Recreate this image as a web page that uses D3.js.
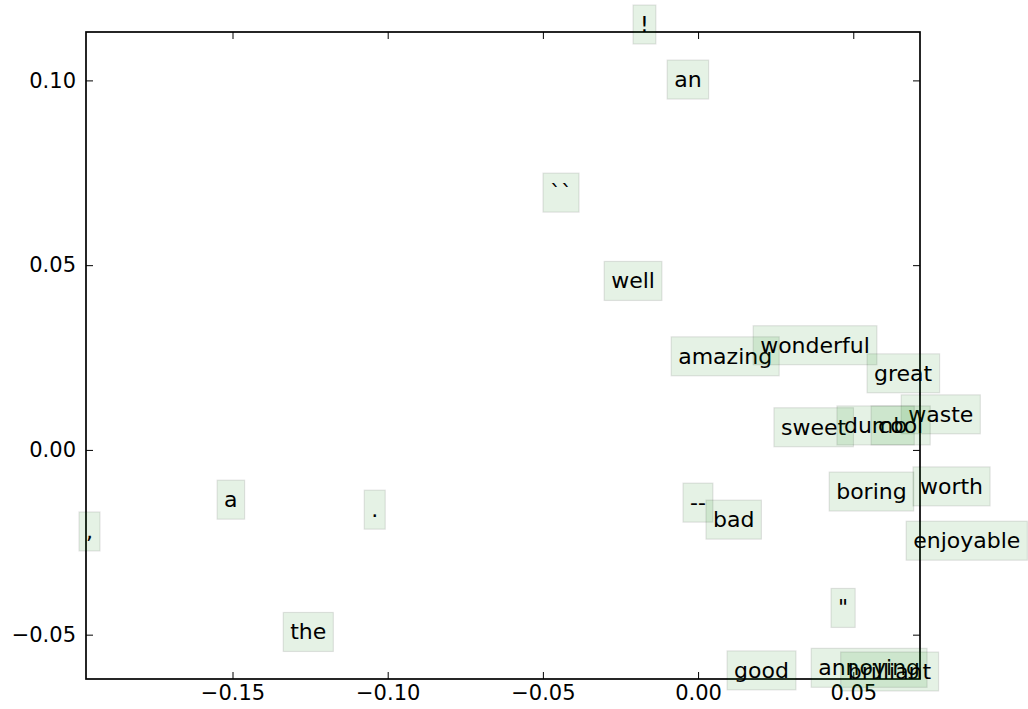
<!DOCTYPE html>
<html>
<head>
<meta charset="utf-8">
<style>
    body { margin: 0; background: #fff; }
    svg text { font-family: "DejaVu Sans", sans-serif; }
    .frame { fill: none; stroke: #000; stroke-width: 1.7; }
    .tick line { stroke: #000; stroke-width: 1; }
    .box { fill: green; fill-opacity: 0.1; stroke: #000; stroke-opacity: 0.1; stroke-width: 1.2; }
</style>
</head>
<body>
<div id="target"></div>
<script src="https://cdn.jsdelivr.net/npm/d3@7/dist/d3.min.js"></script>
<script>
    // words and their 2-d coordinates
    var words = ['!', 'an', '``', 'well', 'amazing', 'wonderful', 'great', 'waste',
        'sweet', 'dumb', 'cool', 'boring', 'worth', 'enjoyable', '--', 'bad',
        ',', 'a', '.', 'the', '"', 'good', 'annoying', 'brilliant'];
    var xs = [-0.0187, -0.0077, -0.0477, -0.0280, -0.0064, 0.0200, 0.0567, 0.0677,
        0.0267, 0.0470, 0.0580, 0.0445, 0.0715, 0.0693, -0.0026, 0.0048,
        -0.1972, -0.1527, -0.1053, -0.1314, 0.0451, 0.0116, 0.0387, 0.0482];
    var ys = [0.1131, 0.0982, 0.0676, 0.0437, 0.0233, 0.0263, 0.0187, 0.0076,
        0.0041, 0.0046, 0.0046, -0.0133, -0.0119, -0.0266, -0.0163, -0.0209,
        -0.0241, -0.0155, -0.0182, -0.0513, -0.0448, -0.0617, -0.0610, -0.0620];

    var xTicks = [-0.15, -0.10, -0.05, 0.00, 0.05];
    var yTicks = [-0.05, 0.00, 0.05, 0.10];

    var W = 1028, H = 709;
    var pLeft = 86, pRight = 920, pTop = 32, pBottom = 679;
    var fontSize = 22, tickFont = 21, pad = 7, tickLen = 7;

    var svg = d3.select('#target').append('svg')
        .attr('width', W).attr('height', H);

    var x = d3.scaleLinear().domain(d3.extent(xs)).range([pLeft, pRight]);
    var y = d3.scaleLinear().domain(d3.extent(ys)).range([pBottom, pTop]);
    var fmt = d3.format('.2f');

    // ticks pointing inwards on all four sides, labels only left and bottom
    var axisBottom = d3.axisBottom(x).tickValues(xTicks).tickFormat(fmt).tickSizeInner(-tickLen).tickSizeOuter(0).tickPadding(6);
    var axisTop = d3.axisTop(x).tickValues(xTicks).tickFormat('').tickSizeInner(-tickLen).tickSizeOuter(0);
    var axisLeft = d3.axisLeft(y).tickValues(yTicks).tickFormat(fmt).tickSizeInner(-tickLen).tickSizeOuter(0).tickPadding(10);
    var axisRight = d3.axisRight(y).tickValues(yTicks).tickFormat('').tickSizeInner(-tickLen).tickSizeOuter(0);

    function styleAxis(g) {
        g.select('.domain').remove();
        g.selectAll('text').attr('font-size', tickFont).attr('fill', '#000');
    }

    svg.append('g').attr('transform', 'translate(0,' + pBottom + ')').call(axisBottom).call(styleAxis);
    svg.append('g').attr('transform', 'translate(0,' + pTop + ')').call(axisTop).call(styleAxis);
    svg.append('g').attr('transform', 'translate(' + pLeft + ',0)').call(axisLeft).call(styleAxis);
    svg.append('g').attr('transform', 'translate(' + pRight + ',0)').call(axisRight).call(styleAxis);

    svg.append('rect').attr('class', 'frame')
        .attr('x', pLeft).attr('y', pTop)
        .attr('width', pRight - pLeft).attr('height', pBottom - pTop);

    // each word: text at (x, y) left/baseline, with a translucent green box around it
    var pts = words.map(function (w, i) { return { w: w, x: xs[i], y: ys[i] }; });

    var g = svg.append('g');
    pts.forEach(function (d) {
        var item = g.append('g');
        var box = item.append('rect').attr('class', 'box');
        var t = item.append('text')
            .attr('x', x(d.x)).attr('y', y(d.y))
            .attr('font-size', fontSize)
            .attr('fill', '#000')
            .text(d.w);
        var bb = t.node().getBBox();
        box.attr('x', bb.x - pad).attr('y', bb.y - pad)
            .attr('width', bb.width + 2 * pad).attr('height', bb.height + 2 * pad);
    });
</script>
</body>
</html>
